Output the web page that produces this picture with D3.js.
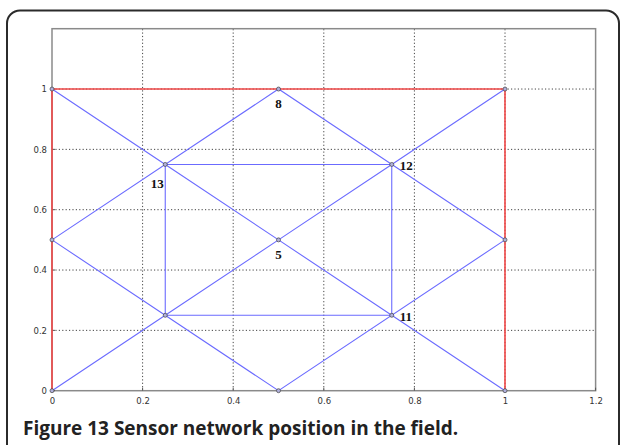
<!DOCTYPE html>
<html>
<head>
<meta charset="utf-8">
<script src="https://cdn.jsdelivr.net/npm/d3@7"></script>
<style>
  html, body { margin: 0; padding: 0; background: #fff; }
  svg { display: block; }
</style>
</head>
<body>
<svg id="chart" width="624" height="445"></svg>
<script>
// Sensor positions (field coordinates)
const nodeX = [0, 0.5, 1, 0, 1, 0, 0.5, 1, 0.25, 0.75, 0.25, 0.75, 0.5];
const nodeY = [0, 0, 0, 0.5, 0.5, 1, 1, 1, 0.25, 0.25, 0.75, 0.75, 0.5];

// Node numbers printed next to some sensors
const labelNode = [6, 10, 11, 12, 9];           // indices into nodeX / nodeY
const labelText = ["8", "13", "12", "5", "11"];
const labelSide = ["below", "belowLeft", "right", "below", "right"];

// Communication links, as polylines through node indices
const blueLinks = [
  [5, 10, 12, 9, 2],          // (0,1) -> (1,0)
  [0, 8, 12, 11, 7],          // (0,0) -> (1,1)
  [3, 6, 4, 1, 3],            // diamond
  [8, 9, 11, 10, 8]           // inner rectangle
];
// Field boundary
const redLinks = [[0, 5, 7, 2]];

const xTicks = [0, 0.2, 0.4, 0.6, 0.8, 1, 1.2];
const yTicks = [0, 0.2, 0.4, 0.6, 0.8, 1];
const yGrid = [0.2, 0.4, 0.6, 0.8, 1];
const xGrid = [0.2, 0.4, 0.6, 0.8, 1];
const caption = "Figure 13 Sensor network position in the field.";

const svg = d3.select("#chart");

// Card frame
svg.append("rect")
  .attr("x", 7).attr("y", 10.5)
  .attr("width", 612).attr("height", 460)
  .attr("rx", 13).attr("ry", 13)
  .attr("fill", "#fff")
  .attr("stroke", "#2b2b2b")
  .attr("stroke-width", 2);

const L = 52, R = 595.6, T = 28.7, B = 390.7;
const x = d3.scaleLinear().domain([0, 1.2]).range([L, R]);
const y = d3.scaleLinear().domain([0, 1.2]).range([B, T]);

// Dotted grid
const grid = svg.append("g")
  .attr("stroke", "#444").attr("stroke-width", 1)
  .attr("stroke-dasharray", "1.2,2.2");
grid.selectAll(".gx").data(xGrid).join("line")
  .attr("x1", d => x(d)).attr("x2", d => x(d))
  .attr("y1", y(0)).attr("y2", y(1.2));
grid.selectAll(".gy").data(yGrid).join("line")
  .attr("x1", x(0)).attr("x2", x(1.2))
  .attr("y1", d => y(d)).attr("y2", d => y(d));

// Axes
const fmt = d => d3.format("~g")(d);
const xAxis = d3.axisBottom(x).tickValues(xTicks).tickFormat(fmt).tickSize(0).tickPadding(7);
const yAxis = d3.axisLeft(y).tickValues(yTicks).tickFormat(fmt).tickSize(0).tickPadding(5);

const gx = svg.append("g").attr("transform", `translate(0,${B})`).call(xAxis);
const gy = svg.append("g").attr("transform", `translate(${L},0)`).call(yAxis);
[gx, gy].forEach(g => {
  g.select(".domain").remove();
  g.selectAll("text")
    .attr("font-family", "'DejaVu Sans', sans-serif")
    .attr("font-size", 8.5)
    .attr("fill", "#333");
});

svg.append("rect")
  .attr("x", L).attr("y", T)
  .attr("width", R - L).attr("height", B - T)
  .attr("fill", "none")
  .attr("stroke", "#8a8a8a")
  .attr("stroke-width", 1.5);

// tick marks (inward)
const ticks = svg.append("g").attr("stroke", "#555").attr("stroke-width", 1);
ticks.selectAll(".tx").data(xTicks).join("line")
  .attr("x1", d => x(d)).attr("x2", d => x(d))
  .attr("y1", B).attr("y2", B - 3);
ticks.selectAll(".ty").data(yTicks).join("line")
  .attr("x1", L).attr("x2", L + 3)
  .attr("y1", d => y(d)).attr("y2", d => y(d));

const line = d3.line()
  .x(i => x(nodeX[i]))
  .y(i => y(nodeY[i]));

// Boundary (red)
svg.append("g").selectAll("path").data(redLinks).join("path")
  .attr("d", line)
  .attr("fill", "none")
  .attr("stroke", "#f04848")
  .attr("stroke-width", 1.6);

// Links (blue)
svg.append("g").selectAll("path").data(blueLinks).join("path")
  .attr("d", line)
  .attr("fill", "none")
  .attr("stroke", "#6b6bff")
  .attr("stroke-width", 1.1);

// Sensor markers
svg.append("g").selectAll("circle").data(nodeX.map((_, i) => i)).join("circle")
  .attr("cx", i => x(nodeX[i]))
  .attr("cy", i => y(nodeY[i]))
  .attr("r", 2)
  .attr("fill", "#b0b0dd")
  .attr("stroke", "#444")
  .attr("stroke-width", 0.7);

// Node numbers
const offsets = {
  below: [0, 19, "middle"],
  belowLeft: [-8, 24, "middle"],
  right: [8, 6, "start"]
};
svg.append("g").selectAll("text").data(labelNode).join("text")
  .attr("x", (n, k) => x(nodeX[n]) + offsets[labelSide[k]][0])
  .attr("y", (n, k) => y(nodeY[n]) + offsets[labelSide[k]][1])
  .attr("text-anchor", (n, k) => offsets[labelSide[k]][2])
  .attr("font-family", "'Liberation Serif', serif")
  .attr("font-weight", "bold")
  .attr("font-size", 13)
  .attr("fill", "#111")
  .text((n, k) => labelText[k]);

// Caption
svg.append("text")
  .attr("x", 23).attr("y", 435)
  .attr("font-family", "'Open Sans', sans-serif")
  .attr("font-weight", "bold")
  .attr("font-size", 19)
  .attr("fill", "#222")
  .text(caption);
</script>
</body>
</html>
